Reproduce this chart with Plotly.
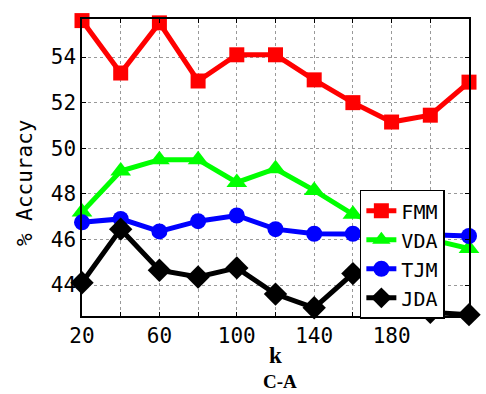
import plotly.graph_objects as go

k = [20, 40, 60, 80, 100, 120, 140, 160, 180, 200, 220]
fmm = [55.6, 53.3, 55.5, 52.95, 54.1, 54.1, 53.0, 52.0, 51.15, 51.45, 52.9]
vda = [47.2, 49.0, 49.5, 49.5, 48.5, 49.1, 48.15, 47.1, 46.5, 46.0, 45.6]
tjm = [46.75, 46.9, 46.35, 46.8, 47.05, 46.45, 46.25, 46.25, 46.2, 46.2, 46.15]
jda = [44.1, 46.45, 44.65, 44.35, 44.75, 43.6, 43.0, 44.5, 44.0, 42.8, 42.7]

x_ticks = [20, 40, 60, 80, 100, 120, 140, 160, 180, 200, 220]
x_ticktext = ["20", "", "60", "", "100", "", "140", "", "180", "", "220"]
y_ticks = [44, 46, 48, 50, 52, 54]

series = [
    ("FMM", fmm, "#ff0000", "square", 15),
    ("VDA", vda, "#00ff00", "triangle-up", 18),
    ("TJM", tjm, "#0000ff", "circle", 16),
    ("JDA", jda, "#000000", "diamond", 18),
]

fig = go.Figure()
for name, vals, col, sym, sz in series:
    fig.add_trace(go.Scatter(
        x=k, y=vals, name=name, mode="lines+markers",
        line=dict(color=col, width=5),
        marker=dict(color=col, symbol=sym, size=sz),
        cliponaxis=False,
    ))

mono = "DejaVu Sans Mono"
fig.update_layout(
    width=486, height=394,
    margin=dict(l=82, r=17, t=19, b=78),
    plot_bgcolor="white", paper_bgcolor="white",
    showlegend=True,
    legend=dict(
        x=0.718, y=0.425, xanchor="left", yanchor="top",
        bgcolor="white", bordercolor="black", borderwidth=1.5,
        font=dict(family=mono, size=20, color="black"),
        itemwidth=30, tracegroupgap=0,
    ),
    xaxis=dict(
        range=[20, 220], tickvals=x_ticks, ticktext=x_ticktext,
        showline=True, linecolor="black", linewidth=1.5, mirror="ticks",
        ticks="inside", ticklen=4, tickcolor="black",
        showgrid=True, gridcolor="#999999", griddash="dot", gridwidth=1,
        tickfont=dict(family=mono, size=21, color="black"),
        zeroline=False,
    ),
    yaxis=dict(
        range=[42.64, 55.67], tickvals=y_ticks,
        showline=True, linecolor="black", linewidth=1.5, mirror="ticks",
        ticks="inside", ticklen=4, tickcolor="black",
        showgrid=True, gridcolor="#999999", griddash="dot", gridwidth=1,
        tickfont=dict(family=mono, size=21, color="black"),
        zeroline=False,
    ),
    annotations=[
        dict(text="<b>k</b>", xref="paper", yref="paper", x=(275 - 82) / 387, y=-(355 - 316) / 297,
             xanchor="center", yanchor="middle", showarrow=False,
             font=dict(family="Liberation Serif", size=23, color="black")),
        dict(text="<b>C-A</b>", xref="paper", yref="paper", x=(280 - 82) / 387, y=-(381 - 316) / 297,
             xanchor="center", yanchor="middle", showarrow=False,
             font=dict(family="Liberation Serif", size=19, color="black")),
        dict(text="% Accuracy", xref="paper", yref="paper", x=-(82 - 25) / 387, y=(316 - 183) / 297,
             xanchor="center", yanchor="middle", showarrow=False, textangle=-90,
             font=dict(family=mono, size=21, color="black")),
    ],
)

fig.write_html("out.html")
